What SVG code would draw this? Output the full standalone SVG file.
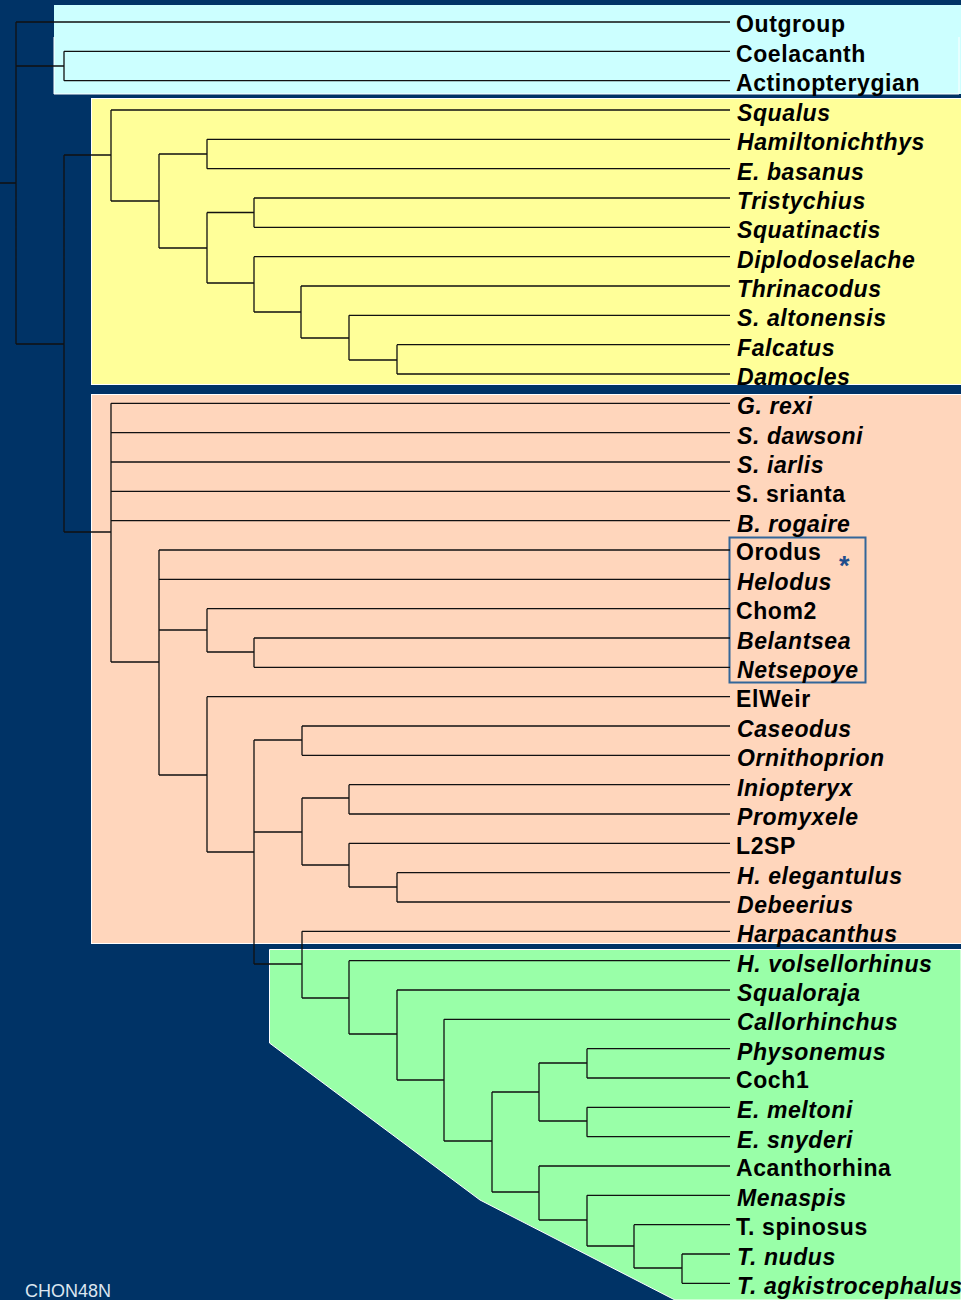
<svg xmlns="http://www.w3.org/2000/svg" width="961" height="1300" viewBox="0 0 961 1300">
<style>
.bg{fill:#003366}
.lbl{font-family:"Liberation Sans",Arial,sans-serif;font-weight:bold;font-size:23px;letter-spacing:0.6px;fill:#000}
.it{font-style:italic}
.tree{fill:none;stroke:#111;stroke-width:1.3}
.box{stroke:#fff;stroke-width:1}
</style>
<rect class="bg" x="0" y="0" width="961" height="1300"/>
<g id="panels">
<rect x="54" y="5" width="907" height="89" fill="#CCFFFF"/>
<polyline points="54,37 54,94 959,94 959,37" fill="none" stroke="#fff" stroke-width="1"/>
<rect class="box" x="91.5" y="98.5" width="870" height="286" fill="#FFFF99"/>
<rect class="box" x="91.5" y="394.5" width="870" height="549" fill="#FFD6BC"/>
<polygon class="box" points="269.5,949.5 961,949.5 961,1300 675,1300 480,1200 269.5,1043" fill="#99FFA8"/>
<rect x="729.5" y="537.5" width="136" height="145" fill="none" stroke="#336699" stroke-width="2"/>
</g>
<g id="connectors" class="tree">
<path d="M0,183H16 M16,22V344 M16,22H730 M16,66H64 M64,51.3V80.7 M64,51.3H730 M64,80.7H730 M16,344H64 M64,155V532 M64,155H111 M111,110V201 M111,110H730 M111,201H159 M159,154V248 M159,154H207 M207,139.3V168.7 M207,139.3H730 M207,168.7H730 M159,248H207 M207,212.5V283 M207,212.5H254 M254,198V227.3 M254,198H730 M254,227.3H730 M207,283H254 M254,256.7V312 M254,256.7H730 M254,312H301 M301,286V338 M301,286H730 M301,338H349 M349,315.3V360 M349,315.3H730 M349,360H397 M397,344.7V374 M397,344.7H730 M397,374H730"/>
<path d="M64,532H111 M111,403.3V662 M111,403.3H730 M111,432.7H730 M111,462H730 M111,491.3H730 M111,520.7H730 M111,662H159 M159,550V775 M159,550H730 M159,579.3H730 M159,630H207 M207,608.7V652 M207,608.7H730 M207,652H254 M254,638V667.3 M254,638H730 M254,667.3H730 M159,775H207 M207,696.7V852 M207,696.7H730 M207,852H254 M254,740V964 M254,740H302 M302,726V755.3 M302,726H730 M302,755.3H730 M254,832H302 M302,798V865 M302,798H349 M349,784.7V814 M349,784.7H730 M349,814H730 M302,865H349 M349,843.3V887 M349,843.3H730 M349,887H397 M397,872.7V902 M397,872.7H730 M397,902H730"/>
<path d="M254,964H302 M302,931.3V998 M302,931.3H730 M302,998H349 M349,960.7V1034 M349,960.7H730 M349,1034H397 M397,990V1080 M397,990H730 M397,1080H444 M444,1019.3V1141 M444,1019.3H730 M444,1141H492 M492,1092V1192 M492,1092H539 M539,1063V1121 M539,1063H587 M587,1048.7V1078 M587,1048.7H730 M587,1078H730 M539,1121H587 M587,1107.3V1136.7 M587,1107.3H730 M587,1136.7H730 M492,1192H539 M539,1166V1220 M539,1166H730 M539,1220H587 M587,1195.3V1246 M587,1195.3H730 M587,1246H634 M634,1224.7V1268 M634,1224.7H730 M634,1268H682 M682,1254V1283.3 M682,1254H730 M682,1283.3H730"/>
</g>
<g id="n-outgroup"><text class="lbl" x="736" y="32.4">Outgroup</text></g>
<g id="n-coelacanth"><text class="lbl" x="736" y="61.7">Coelacanth</text></g>
<g id="n-actinopterygian"><text class="lbl" x="736" y="91.1">Actinopterygian</text></g>
<g id="n-squalus"><text class="lbl it" x="737" y="120.9">Squalus</text></g>
<g id="n-hamiltonichthys"><text class="lbl it" x="737" y="150.2">Hamiltonichthys</text></g>
<g id="n-ebasanus"><text class="lbl it" x="737" y="179.6">E. basanus</text></g>
<g id="n-tristychius"><text class="lbl it" x="737" y="208.9">Tristychius</text></g>
<g id="n-squatinactis"><text class="lbl it" x="737" y="238.2">Squatinactis</text></g>
<g id="n-diplodoselache"><text class="lbl it" x="737" y="267.6">Diplodoselache</text></g>
<g id="n-thrinacodus"><text class="lbl it" x="737" y="296.9">Thrinacodus</text></g>
<g id="n-saltonensis"><text class="lbl it" x="737" y="326.2">S. altonensis</text></g>
<g id="n-falcatus"><text class="lbl it" x="737" y="355.6">Falcatus</text></g>
<g id="n-damocles"><text class="lbl it" x="737" y="384.9">Damocles</text></g>
<g id="n-grexi"><text class="lbl it" x="737" y="414.2">G. rexi</text></g>
<g id="n-sdawsoni"><text class="lbl it" x="737" y="443.6">S. dawsoni</text></g>
<g id="n-siarlis"><text class="lbl it" x="737" y="472.9">S. iarlis</text></g>
<g id="n-ssrianta"><text class="lbl" x="736" y="502.2">S. srianta</text></g>
<g id="n-brogaire"><text class="lbl it" x="737" y="531.6">B. rogaire</text></g>
<g id="n-orodus"><text class="lbl" x="736" y="560.4">Orodus</text></g>
<g id="n-helodus"><text class="lbl it" x="737" y="590.2">Helodus</text></g>
<g id="n-chom2"><text class="lbl" x="736" y="619.1">Chom2</text></g>
<g id="n-belantsea"><text class="lbl it" x="737" y="648.9">Belantsea</text></g>
<g id="n-netsepoye"><text class="lbl it" x="737" y="678.2">Netsepoye</text></g>
<g id="n-asterisk"><text class="lbl" x="839" y="575" style="fill:#1F4E8C;font-size:27px">*</text></g>
<g id="n-elweir"><text class="lbl" x="736" y="707.1">ElWeir</text></g>
<g id="n-caseodus"><text class="lbl it" x="737" y="736.9">Caseodus</text></g>
<g id="n-ornithoprion"><text class="lbl it" x="737" y="766.2">Ornithoprion</text></g>
<g id="n-iniopteryx"><text class="lbl it" x="737" y="795.6">Iniopteryx</text></g>
<g id="n-promyxele"><text class="lbl it" x="737" y="824.9">Promyxele</text></g>
<g id="n-l2sp"><text class="lbl" x="736" y="853.7">L2SP</text></g>
<g id="n-helegantulus"><text class="lbl it" x="737" y="883.6">H. elegantulus</text></g>
<g id="n-debeerius"><text class="lbl it" x="737" y="912.9">Debeerius</text></g>
<g id="n-harpacanthus"><text class="lbl it" x="737" y="942.2">Harpacanthus</text></g>
<g id="n-hvolsellorhinus"><text class="lbl it" x="737" y="971.6">H. volsellorhinus</text></g>
<g id="n-squaloraja"><text class="lbl it" x="737" y="1000.9">Squaloraja</text></g>
<g id="n-callorhinchus"><text class="lbl it" x="737" y="1030.2">Callorhinchus</text></g>
<g id="n-physonemus"><text class="lbl it" x="737" y="1059.6">Physonemus</text></g>
<g id="n-coch1"><text class="lbl" x="736" y="1088.4">Coch1</text></g>
<g id="n-emeltoni"><text class="lbl it" x="737" y="1118.2">E. meltoni</text></g>
<g id="n-esnyderi"><text class="lbl it" x="737" y="1147.6">E. snyderi</text></g>
<g id="n-acanthorhina"><text class="lbl" x="736" y="1176.4">Acanthorhina</text></g>
<g id="n-menaspis"><text class="lbl it" x="737" y="1206.2">Menaspis</text></g>
<g id="n-tspinosus"><text class="lbl" x="736" y="1235.1">T. spinosus</text></g>
<g id="n-tnudus"><text class="lbl it" x="737" y="1264.9">T. nudus</text></g>
<g id="n-tagkistrocephalus"><text class="lbl it" x="737" y="1294.2">T. agkistrocephalus</text></g>
<g id="n-chon48n"><text x="25" y="1297" style="font-family:'Liberation Sans',Arial,sans-serif;font-size:18px;fill:#DCE6F0">CHON48N</text></g>
</svg>
